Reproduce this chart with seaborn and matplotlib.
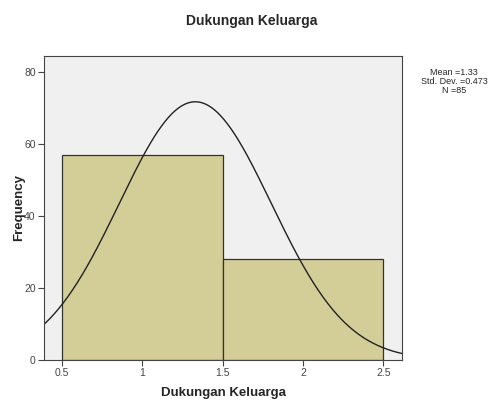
import numpy as np
import pandas as pd
import matplotlib
matplotlib.use("Agg")
import matplotlib.pyplot as plt
import seaborn as sns

# data: response categories and their counts
categories = [1, 2]
counts = [57, 28]
bin_edges = [0.5, 1.5, 2.5]
mean_val = 1.33
sd_val = 0.473
n_val = 85

df = pd.DataFrame({"Dukungan Keluarga": np.repeat(categories, counts)})

sns.set_style("white")
plt.rcParams["font.family"] = ["Liberation Sans", "DejaVu Sans"]

fig = plt.figure(figsize=(5.03, 4.03), dpi=100)
ax = fig.add_axes([0.0875, 0.107, 0.712, 0.754])
ax.set_facecolor("#f0f0f0")

sns.histplot(data=df, x="Dukungan Keluarga", bins=bin_edges, stat="count",
             color="#d3ce98", alpha=1, edgecolor="#333333", linewidth=0.9, ax=ax)

# normal curve scaled to counts
xs = np.linspace(0.388, 2.618, 300)
ys = n_val * 1.0 * np.exp(-0.5 * ((xs - mean_val) / sd_val) ** 2) / (sd_val * np.sqrt(2 * np.pi))
ax.plot(xs, ys, color="#222222", linewidth=1.0)

ax.set_xlim(0.388, 2.618)
ax.set_ylim(0, 84.4)
ax.set_xticks([0.5, 1, 1.5, 2, 2.5])
ax.set_xticklabels(["0.5", "1", "1.5", "2", "2.5"])
ax.set_yticks([0, 20, 40, 60, 80])
ax.tick_params(axis="both", direction="out", length=4, width=0.8, labelsize=7.5,
               colors="#444444", pad=2, bottom=True, left=True)
for s in ax.spines.values():
    s.set_color("#444444")
    s.set_linewidth(0.8)

ax.set_xlabel("Dukungan Keluarga", fontsize=9.5, fontweight="bold", labelpad=6)
ax.set_ylabel("Frequency", fontsize=9.5, fontweight="bold", labelpad=-1)
fig.text(0.5, 0.948, "Dukungan Keluarga", ha="center", va="center",
         fontsize=10, fontweight="bold")

fig.text(0.903, 0.797, f"Mean ={mean_val}\nStd. Dev. ={sd_val}\nN ={n_val}",
         ha="center", va="center", fontsize=6.5, linespacing=1.0)

fig.savefig("out.png", dpi=100)
